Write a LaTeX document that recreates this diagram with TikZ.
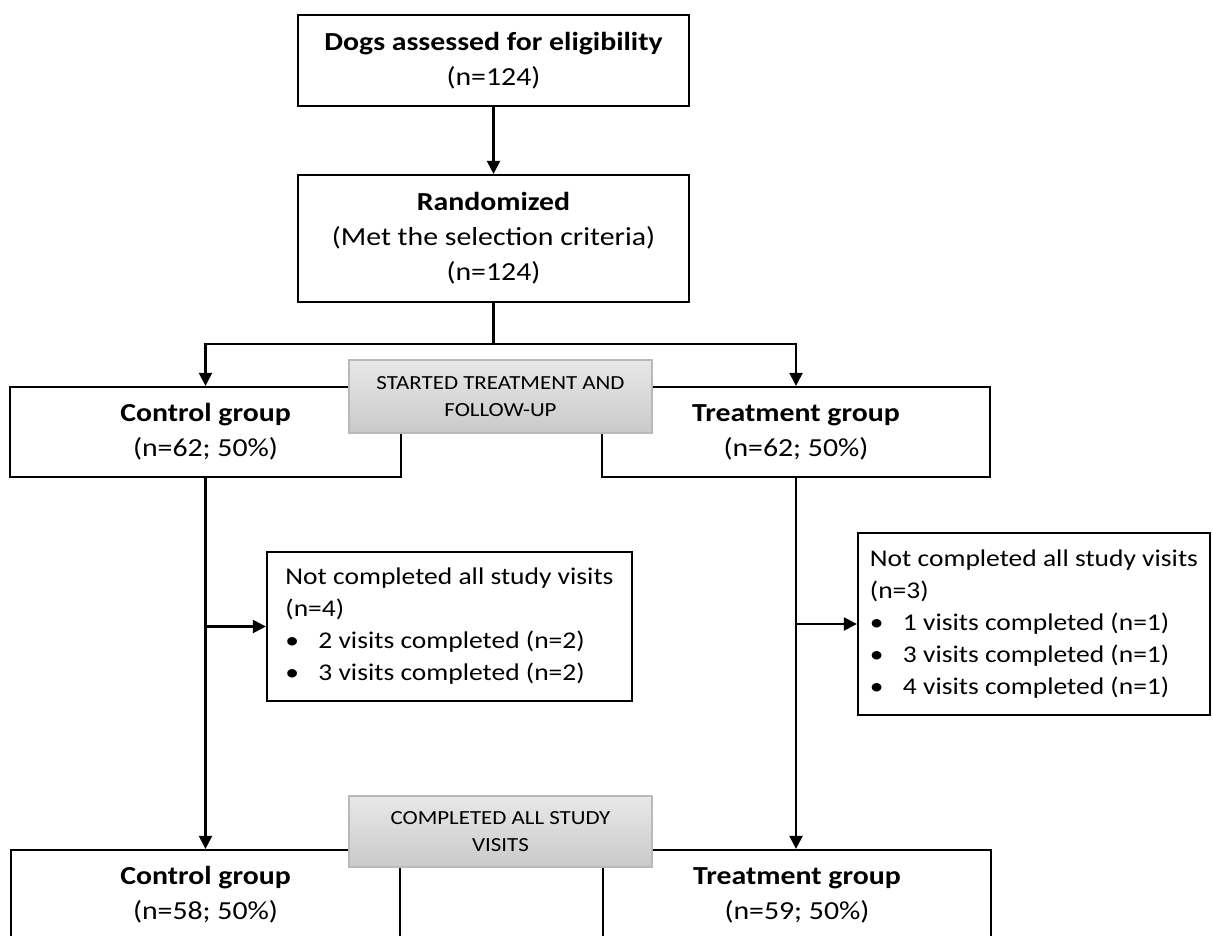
\documentclass[tikz,border=0pt]{standalone}
\usepackage{fontspec}
\setmainfont{Carlito}[FakeStretch=1.146]
\usetikzlibrary{arrows.meta,calc}
\tikzset{
    box/.style={draw,line width=2.2pt,align=center,inner sep=0pt,font=\fontsize{26}{35}\selectfont},
    listbox/.style={box,align=left,font=\fontsize{24}{32}\selectfont},
    stagebox/.style={draw=gray!55,line width=1.4pt,top color=gray!18,bottom color=gray!42,align=center,inner sep=0pt,font=\fontsize{20}{27}\selectfont},
    link/.style={line width=2.2pt},
    flow/.style={link,-{Triangle[length=13pt,width=13pt]}}
}
\newcommand{\visititem}[1]{\makebox[33pt][l]{\textbullet}#1}

\begin{document}
\begin{tikzpicture}[x=1pt,y=-1pt]
\useasboundingbox(0,0)rectangle(1213,935);
\node[box,minimum width=391pt,minimum height=91pt](dogs)at(493.5,60.5){\textbf{Dogs assessed for eligibility}\\(n=124)};
\node[box,minimum width=391pt,minimum height=127pt](rand)at(493.5,238.5){\textbf{Randomized}\\(Met the selection criteria)\\(n=124)};
\node[box,minimum width=391pt,minimum height=90pt](ctrl)at(205.5,432){\textbf{Control group}\\(n=62; 50\%)};
\node[box,minimum width=388pt,minimum height=90pt](treat)at(796,432){\textbf{Treatment group}\\(n=62; 50\%)};
\node[listbox,minimum width=365pt,minimum height=149pt](ctrlout)at(449.5,626.5){Not completed all study visits\\(n=4)\\\visititem{2 visits completed (n=2)}\\\visititem{3 visits completed (n=2)}};
\node[listbox,minimum width=352pt,minimum height=182pt](treatout)at(1034,624){Not completed all study visits\\(n=3)\\\visititem{1 visits completed (n=1)}\\\visititem{3 visits completed (n=1)}\\\visititem{4 visits completed (n=1)}};
\node[box,minimum width=389pt,minimum height=90pt](ctrlend)at(205.5,895){\textbf{Control group}\\(n=58; 50\%)};
\node[box,minimum width=388pt,minimum height=90pt](treatend)at(797,895){\textbf{Treatment group}\\(n=59; 50\%)};
% stage labels over the boxes
\node[stagebox,minimum width=303pt,minimum height=73pt](started)at(500.5,396.5){STARTED TREATMENT AND\\FOLLOW-UP};
\node[stagebox,minimum width=303pt,minimum height=71pt](completed)at(500.5,831.5){COMPLETED ALL STUDY\\VISITS};

\draw[flow](dogs)--(rand);
\draw[link](rand.south)--++(0,41)coordinate(split);
\draw[flow](split)-|(ctrl.north);
\draw[flow](split)-|(treat.north);
\draw[flow](ctrl.south)--(ctrl.south|-ctrlend.north);
\draw[flow](treat.south)--(treat.south|-treatend.north);
\draw[flow](ctrl.south|-ctrlout.west)--(ctrlout.west);
\draw[flow](treat.south|-treatout.west)--(treatout.west);
\end{tikzpicture}
\end{document}
